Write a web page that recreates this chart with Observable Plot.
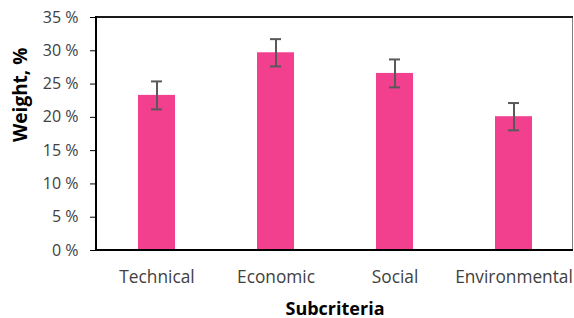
<!DOCTYPE html>
<html>
<head>
<meta charset="utf-8">
<script src="https://cdn.jsdelivr.net/npm/d3@7"></script>
<script src="https://cdn.jsdelivr.net/npm/@observablehq/plot@0.6"></script>
<style>
  html, body { margin: 0; padding: 0; background: #fff; }
  #chart { width: 574px; height: 318px; }
</style>
</head>
<body>
<div id="chart"></div>
<script>
const categories = ["Technical", "Economic", "Social", "Environmental"];
const weights = [23.3, 29.7, 26.6, 20.1];
const errors = [2.1, 2.05, 2.1, 2.05];
const yTicks = [0, 5, 10, 15, 20, 25, 30, 35];

const data = categories.map((c, i) => ({
  category: c,
  weight: weights[i],
  lo: weights[i] - errors[i],
  hi: weights[i] + errors[i]
}));

const frameLines = (index, scales, values, dims) => {
  const {width, height, marginLeft, marginRight, marginTop, marginBottom} = dims;
  const g = d3.create("svg:g");
  const x0 = marginLeft, x1 = width - marginRight, y0 = marginTop, y1 = height - marginBottom;
  g.append("line").attr("x1", x1 - 0.5).attr("x2", x1 - 0.5).attr("y1", y0).attr("y2", y1)
    .attr("stroke", "#808080").attr("stroke-width", 1);
  g.append("line").attr("x1", x0).attr("x2", x1).attr("y1", y0).attr("y2", y0)
    .attr("stroke", "#1a1a1a").attr("stroke-width", 2);
  g.append("line").attr("x1", x0).attr("x2", x1).attr("y1", y1).attr("y2", y1)
    .attr("stroke", "#000").attr("stroke-width", 2);
  g.append("line").attr("x1", x0).attr("x2", x0).attr("y1", y0 - 1).attr("y2", y1 + 1)
    .attr("stroke", "#000").attr("stroke-width", 2);
  return g.node();
};

const chart = Plot.plot({
  width: 574,
  height: 318,
  marginLeft: 96,
  marginRight: 1,
  marginTop: 17,
  marginBottom: 68,
  style: {
    fontFamily: "'Open Sans', Lato, sans-serif",
    fontSize: "15px",
    color: "#404040",
    background: "#fff"
  },
  x: {
    domain: categories,
    paddingInner: 0.69,
    paddingOuter: 0.345,
    label: null
  },
  y: {
    domain: [0, 35],
    label: null
  },
  marks: [
    Plot.barY(data, {x: "category", y: "weight", fill: "#F2408F"}),
    Plot.ruleX(data, {x: "category", y1: "lo", y2: "hi", stroke: "#595959", strokeWidth: 2}),
    Plot.tickY(data, {x: "category", y: "lo", stroke: "#595959", strokeWidth: 2, insetLeft: 13, insetRight: 13}),
    Plot.tickY(data, {x: "category", y: "hi", stroke: "#595959", strokeWidth: 2, insetLeft: 13, insetRight: 13}),
    Plot.axisY({ticks: yTicks, tickFormat: d => d + " %", tickSize: 6, tickPadding: 12, stroke: "#000", fill: "#404040", label: null, fontSize: 16}),
    Plot.axisX({tickSize: 0, tickPadding: 20, fill: "#404040", label: null, fontSize: 17.3}),
    Plot.text(["Subcriteria"], {frameAnchor: "bottom", dy: 64, fontWeight: "bold", fontSize: 18, fill: "#000"}),
    Plot.text(["Weight, %"], {frameAnchor: "left", dx: -76, dy: 8, rotate: -90, fontWeight: "bold", fontSize: 19, fill: "#000"}),
    frameLines
  ]
});

document.getElementById("chart").appendChild(chart);
</script>
</body>
</html>
